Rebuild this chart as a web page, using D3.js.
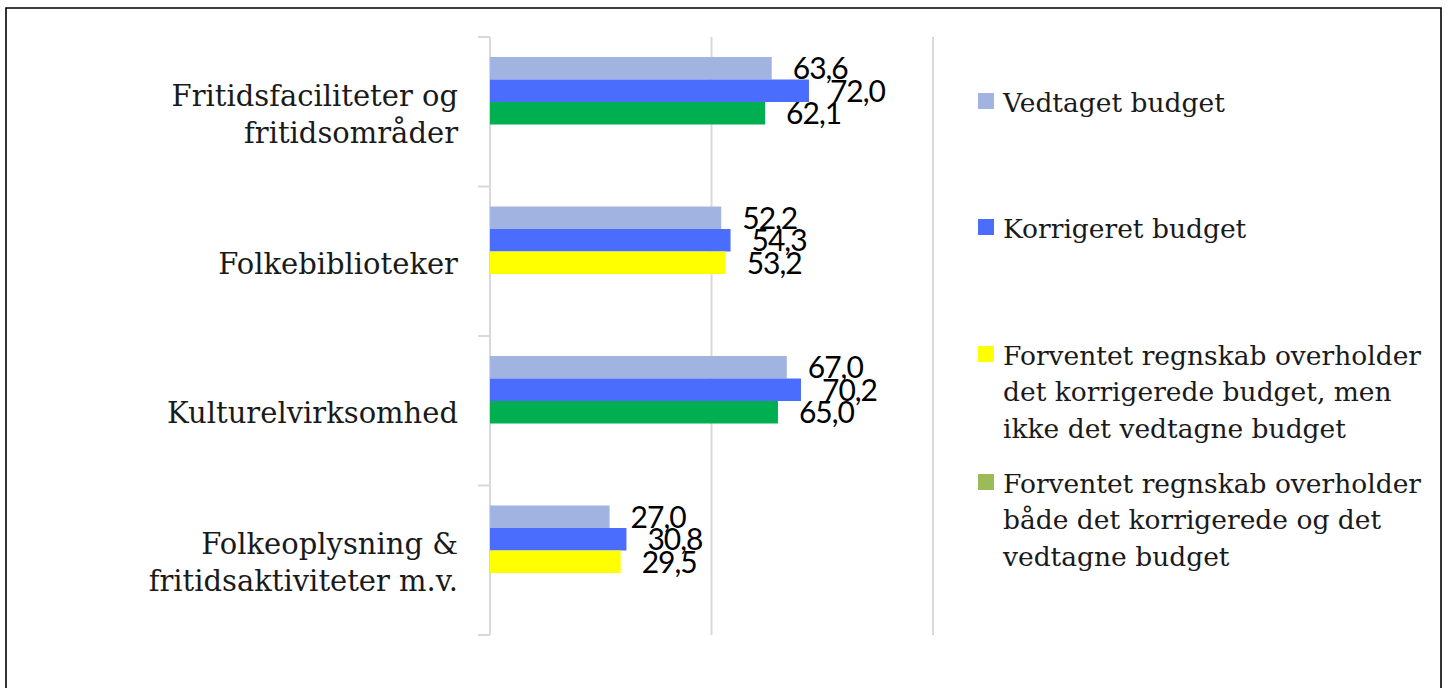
<!DOCTYPE html>
<html>
<head>
<meta charset="utf-8">
<script src="https://cdn.jsdelivr.net/npm/d3@7"></script>
<style>
  body { margin: 0; background: #fff; }
  svg { display: block; }
</style>
</head>
<body>
<div></div>
<script>
var width = 1447, height = 688;

// data
var categories = ["Fritidsfaciliteter og fritidsområder", "Folkebiblioteker", "Kulturelvirksomhed", "Folkeoplysning & fritidsaktiviteter m.v."];
var categoryLines = [["Fritidsfaciliteter og", "fritidsområder"], ["Folkebiblioteker"], ["Kulturelvirksomhed"], ["Folkeoplysning &", "fritidsaktiviteter m.v."]];
var vedtaget = [63.6, 52.2, 67.0, 27.0];
var korrigeret = [72.0, 54.3, 70.2, 30.8];
var forventet = [62.1, 53.2, 65.0, 29.5];
// "korr" = only meets the corrected budget (yellow), "both" = meets both (green)
var budgetStatus = ["both", "korr", "both", "korr"];
var xTicks = [0, 50, 100];

var legendLines = [
  ["Vedtaget budget"],
  ["Korrigeret budget"],
  ["Forventet regnskab overholder", "det korrigerede budget, men", "ikke det vedtagne budget"],
  ["Forventet regnskab overholder", "både det korrigerede og det", "vedtagne budget"]
];
var legendColors = ["#a1b3e0", "#4a6dfe", "#ffff00", "#9bbb59"];
var barColors = {ved: "#a1b3e0", korr: "#4a6dfe", yellow: "#ffff00", green: "#00b050"};

var serif = "'DejaVu Serif', serif";
var sans = "Lato, 'Liberation Sans', sans-serif";

var svg = d3.select("div").append("svg")
    .attr("width", width)
    .attr("height", height);

svg.append("rect").attr("width", width).attr("height", height).attr("fill", "#fff");

// frame (bottom edge is cut off)
svg.append("path")
    .attr("d", "M6,688V8H1441V688")
    .attr("fill", "none")
    .attr("stroke", "#000")
    .attr("stroke-width", 1.6);

var x = d3.scaleLinear().domain([0, 100]).range([490, 933]);
var y = d3.scaleBand().domain(categories).range([37, 635]);
var slot = d3.scaleBand().domain([0, 1, 2]).range([20, 87.5]);

var fmt = function(v) { return d3.format(".1f")(v).replace(".", ","); };

// gridlines
svg.append("g").selectAll("line")
    .data(xTicks.slice(1))
  .enter().append("line")
    .attr("x1", function(d) { return x(d); })
    .attr("x2", function(d) { return x(d); })
    .attr("y1", y.range()[0])
    .attr("y2", y.range()[1])
    .attr("stroke", "#d9d9d9")
    .attr("stroke-width", 2);

// category axis, ticks sit on the band edges
var axis = svg.append("g").attr("stroke", "#d9d9d9").attr("stroke-width", 2);
axis.append("line")
    .attr("x1", x(0)).attr("x2", x(0))
    .attr("y1", y.range()[0]).attr("y2", y.range()[1]);
axis.selectAll("line.tick")
    .data(categories.map(function(c) { return y(c); }).concat([y.range()[1]]))
  .enter().append("line")
    .attr("class", "tick")
    .attr("x1", x(0) - 12).attr("x2", x(0))
    .attr("y1", function(d) { return d; })
    .attr("y2", function(d) { return d; });

// bars
var bars = d3.merge(categories.map(function(c, k) {
  return [
    {cat: c, i: 0, v: vedtaget[k], color: barColors.ved},
    {cat: c, i: 1, v: korrigeret[k], color: barColors.korr},
    {cat: c, i: 2, v: forventet[k], color: budgetStatus[k] == "both" ? barColors.green : barColors.yellow}
  ];
}));

svg.append("g").selectAll("rect")
    .data(bars)
  .enter().append("rect")
    .attr("x", x(0))
    .attr("y", function(d) { return y(d.cat) + slot(d.i); })
    .attr("width", function(d) { return x(d.v) - x(0); })
    .attr("height", slot.bandwidth())
    .attr("fill", function(d) { return d.color; });

svg.append("g").selectAll("text")
    .data(bars)
  .enter().append("text")
    .attr("x", function(d) { return x(d.v) + 21; })
    .attr("y", function(d) { return y(d.cat) + slot(d.i) + slot.bandwidth() / 2; })
    .attr("dy", "0.36em")
    .attr("font-family", sans)
    .attr("font-size", 30)
    .attr("letter-spacing", -1)
    .attr("fill", "#000")
    .text(function(d) { return fmt(d.v); });

// category labels
var cl = svg.append("g").selectAll("text")
    .data(categories)
  .enter().append("text")
    .attr("text-anchor", "end")
    .attr("font-family", serif)
    .attr("font-size", 29)
    .attr("fill", "#1a1a1a");
cl.each(function(c, i) {
  var lines = categoryLines[i];
  var cy = y(c) + y.bandwidth() / 2;
  d3.select(this).selectAll("tspan")
      .data(lines)
    .enter().append("tspan")
      .attr("x", 458)
      .attr("y", function(d, j) { return cy + 2 + (j - (lines.length - 1) / 2) * 37; })
      .attr("dy", "0.36em")
      .text(function(d) { return d; });
});

// legend
var legendTop = [102, 228, 355, 483];
var lg = svg.append("g").selectAll("g")
    .data(legendLines)
  .enter().append("g")
    .attr("transform", function(d, i) { return "translate(978," + legendTop[i] + ")"; });
lg.append("rect")
    .attr("x", 0).attr("y", -9)
    .attr("width", 16).attr("height", 16)
    .attr("fill", function(d, i) { return legendColors[i]; });
lg.append("text")
    .attr("font-family", serif)
    .attr("font-size", 26.5)
    .attr("fill", "#1a1a1a")
  .selectAll("tspan")
    .data(function(d) { return d; })
  .enter().append("tspan")
    .attr("x", 25)
    .attr("y", function(d, j) { return j * 36.5; })
    .attr("dy", "0.36em")
    .text(function(d) { return d; });
</script>
</body>
</html>
